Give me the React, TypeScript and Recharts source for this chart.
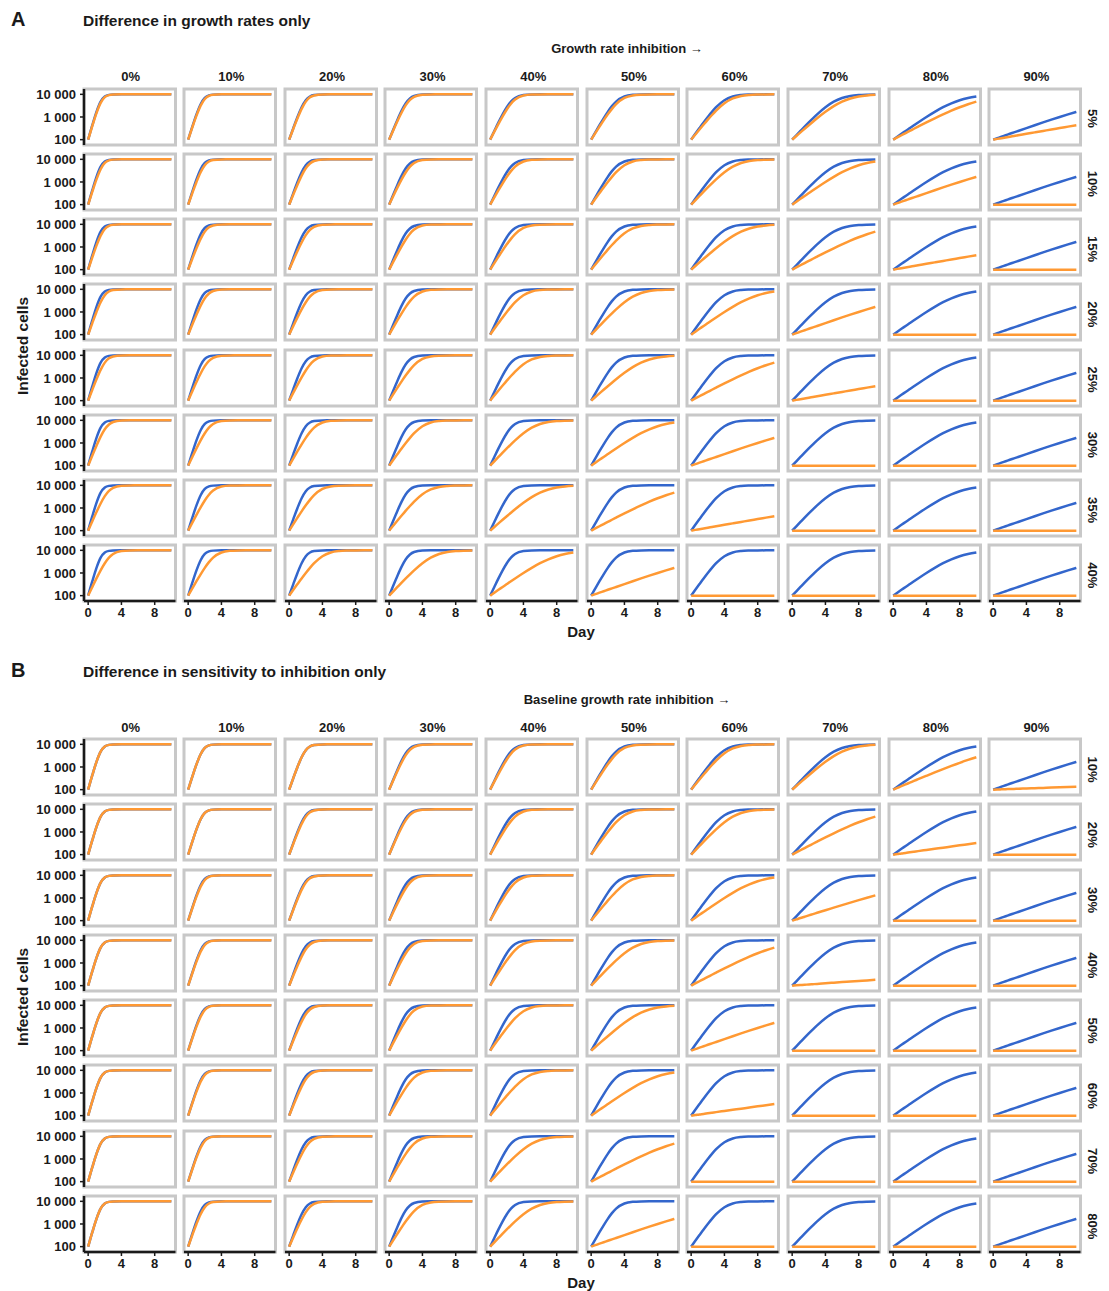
import React from "react";
import { LineChart, Line, XAxis, YAxis, ReferenceArea } from "recharts";

// sampling days of the simulated curves
const days = [0, 0.5, 1, 1.5, 2, 2.5, 3, 4, 5, 6, 7, 8, 9, 10];

// infected cells at each sampling day, one array per effective growth rate (% of the uninhibited rate)
const rate100 = [100, 433, 1687, 4762, 8030, 9481, 9879, 9994, 10000, 10000, 10000, 10000, 10000, 10000];
const rate95 = [100, 403, 1487, 4206, 7512, 9262, 9812, 9989, 9999, 10000, 10000, 10000, 10000, 10000];
const rate90 = [100, 375, 1307, 3670, 6910, 8961, 9708, 9980, 9999, 10000, 10000, 10000, 10000, 10000];
const rate85 = [100, 349, 1145, 3165, 6236, 8557, 9550, 9963, 9997, 10000, 10000, 10000, 10000, 10000];
const rate80 = [100, 324, 1002, 2699, 5510, 8030, 9312, 9933, 9994, 9999, 10000, 10000, 10000, 10000];
const rate75 = [100, 302, 875, 2279, 4762, 7369, 8961, 9879, 9987, 9999, 10000, 10000, 10000, 10000];
const rate70 = [100, 281, 762, 1908, 4025, 6581, 8462, 9782, 9973, 9997, 10000, 10000, 10000, 10000];
const rate65 = [100, 261, 663, 1584, 3329, 5695, 7781, 9610, 9943, 9992, 9999, 10000, 10000, 10000];
const rate60 = [100, 242, 576, 1307, 2699, 4762, 6910, 9312, 9879, 9980, 9997, 9999, 10000, 10000];
const rate55 = [100, 225, 500, 1072, 2150, 3846, 5878, 8813, 9748, 9951, 9990, 9998, 10000, 10000];
const rate50 = [100, 209, 433, 875, 1687, 3005, 4762, 8030, 9481, 9879, 9973, 9994, 9999, 10000];
const rate45 = [100, 195, 375, 711, 1307, 2279, 3670, 6910, 8961, 9708, 9923, 9980, 9995, 9999];
const rate40 = [100, 181, 324, 576, 1002, 1687, 2699, 5510, 8030, 9312, 9782, 9933, 9980, 9994];
const rate35 = [100, 168, 281, 465, 762, 1224, 1908, 4025, 6581, 8462, 9402, 9782, 9923, 9973];
const rate30 = [100, 156, 242, 375, 576, 875, 1307, 2699, 4762, 6910, 8462, 9312, 9708, 9879];
const rate25 = [100, 145, 209, 302, 433, 618, 875, 1687, 3005, 4762, 6581, 8030, 8961, 9481];
const rate20 = [100, 135, 181, 242, 324, 433, 576, 1002, 1687, 2699, 4025, 5510, 6910, 8030];
const rate15 = [100, 125, 156, 195, 242, 302, 375, 576, 875, 1307, 1908, 2699, 3670, 4762];
const rate12 = [100, 119, 143, 170, 203, 242, 289, 409, 576, 805, 1115, 1525, 2050, 2699];
const rate10 = [100, 116, 135, 156, 181, 209, 242, 324, 433, 576, 762, 1002, 1307, 1687];
const rate9 = [100, 114, 131, 149, 170, 195, 222, 289, 375, 486, 627, 805, 1029, 1307];
const rate5 = [100, 108, 116, 125, 135, 145, 156, 181, 209, 242, 281, 324, 375, 433];
const rate4 = [100, 106, 113, 119, 127, 135, 143, 161, 181, 203, 229, 257, 289, 324];
const rate2 = [100, 103, 106, 109, 113, 116, 119, 127, 135, 143, 151, 161, 170, 181];
const rate1 = [100, 101, 103, 105, 106, 108, 109, 113, 116, 119, 123, 127, 131, 135];
const rate0 = [100, 100, 100, 100, 100, 100, 100, 100, 100, 100, 100, 100, 100, 100];

const PROFILES: Record<number, number[]> = {
  100: rate100, 95: rate95, 90: rate90, 85: rate85, 80: rate80, 75: rate75, 70: rate70,
  65: rate65, 60: rate60, 55: rate55, 50: rate50, 45: rate45, 40: rate40, 35: rate35,
  30: rate30, 25: rate25, 20: rate20, 15: rate15, 12: rate12, 10: rate10, 9: rate9,
  5: rate5, 4: rate4, 2: rate2, 1: rate1, 0: rate0,
};

const columnLabels = ["0%", "10%", "20%", "30%", "40%", "50%", "60%", "70%", "80%", "90%"];
// reference strain (blue): growth rate per column
const blueRate = [100, 90, 80, 70, 60, 50, 40, 30, 20, 10];

// panel A: orange strain growth rate per row (difference) and column
const rowLabelsA = ["5%", "10%", "15%", "20%", "25%", "30%", "35%", "40%"];
const orangeRateA = [
  [95, 85, 75, 65, 55, 45, 35, 25, 15, 5],
  [90, 80, 70, 60, 50, 40, 30, 20, 10, 0],
  [85, 75, 65, 55, 45, 35, 25, 15, 5, 0],
  [80, 70, 60, 50, 40, 30, 20, 10, 0, 0],
  [75, 65, 55, 45, 35, 25, 15, 5, 0, 0],
  [70, 60, 50, 40, 30, 20, 10, 0, 0, 0],
  [65, 55, 45, 35, 25, 15, 5, 0, 0, 0],
  [60, 50, 40, 30, 20, 10, 0, 0, 0, 0],
];

// panel B: orange strain growth rate per row (sensitivity difference) and column
const rowLabelsB = ["10%", "20%", "30%", "40%", "50%", "60%", "70%", "80%"];
const orangeRateB = [
  [100, 90, 80, 65, 55, 45, 35, 25, 12, 1],
  [100, 90, 75, 65, 50, 40, 30, 15, 4, 0],
  [100, 85, 75, 60, 50, 35, 20, 9, 0, 0],
  [100, 85, 70, 60, 45, 30, 15, 2, 0, 0],
  [100, 85, 70, 55, 40, 25, 10, 0, 0, 0],
  [100, 85, 70, 50, 35, 20, 4, 0, 0, 0],
  [100, 85, 65, 50, 30, 15, 0, 0, 0, 0],
  [100, 80, 65, 45, 30, 10, 0, 0, 0, 0],
];

const yTicks = [100, 1000, 10000];
const xTicks = [0, 4, 8];

const FONT = "'Liberation Sans', Arial, Helvetica, sans-serif";
const INK = "#1a1a1a";
const BLUE = "#3366CC";
const ORANGE = "#FF9933";
const BORDER = "#C8C8C8";
const X_DOMAIN: [number, number] = [-0.5, 10.5];
const Y_DOMAIN: [number, number] = [58, 17200];

const PW = 91.5;
const PH = 56;
const X0 = 83.5;
const DX = 100.63;
const Y0 = 88.5;
const DY = 65.25;
const Y_AXIS_W = 62;
const X_AXIS_H = 20;

const fmt = (v: number) => String(v).replace(/\B(?=(\d{3})+(?!\d))/g, " ");

interface CellProps {
  blue: number;
  orange: number;
  showY: boolean;
  showX: boolean;
  left: number;
  top: number;
}

function Cell({ blue, orange, showY, showX, left, top }: CellProps) {
  const data = days.map((d, i) => ({ day: d, blue: PROFILES[blue][i], orange: PROFILES[orange][i] }));
  const yw = showY ? Y_AXIS_W : 0;
  const xh = showX ? X_AXIS_H : 0;
  return (
    <div style={{ position: "absolute", left: left - 2 - yw, top: top - 2 }}>
      <LineChart width={PW + 4 + yw} height={PH + 4 + xh} data={data} margin={{ top: 2, right: 2, bottom: 2, left: 2 }}>
        <ReferenceArea
          x1={X_DOMAIN[0]}
          x2={X_DOMAIN[1]}
          y1={Y_DOMAIN[0]}
          y2={Y_DOMAIN[1]}
          fill="none"
          fillOpacity={0}
          stroke={BORDER}
          strokeWidth={3}
        />
        <XAxis
          type="number"
          dataKey="day"
          domain={X_DOMAIN}
          allowDataOverflow
          ticks={xTicks}
          interval={0}
          hide={!showX}
          height={xh}
          tickSize={4}
          tickMargin={3}
          tick={{ fontSize: 13, fontWeight: 700, fill: INK }}
          tickLine={{ stroke: INK, strokeWidth: 1.5 }}
          axisLine={{ stroke: INK, strokeWidth: 2.5 }}
        />
        <YAxis
          type="number"
          scale="log"
          domain={Y_DOMAIN}
          allowDataOverflow
          ticks={yTicks}
          interval={0}
          hide={!showY}
          width={yw}
          tickSize={4}
          tickMargin={4}
          tickFormatter={fmt}
          tick={{ fontSize: 13, fontWeight: 700, fill: INK }}
          tickLine={{ stroke: INK, strokeWidth: 1.5 }}
          axisLine={{ stroke: INK, strokeWidth: 2.5 }}
        />
        <Line type="monotone" dataKey="blue" stroke={BLUE} strokeWidth={2.5} dot={false} activeDot={false} isAnimationActive={false} />
        <Line type="monotone" dataKey="orange" stroke={ORANGE} strokeWidth={2.5} dot={false} activeDot={false} isAnimationActive={false} />
      </LineChart>
    </div>
  );
}

interface FacetProps {
  offsetY: number;
  letter: string;
  title: string;
  colTitle: string;
  rowLabels: string[];
  orangeRates: number[][];
}

function Facets({ offsetY, letter, title, colTitle, rowLabels, orangeRates }: FacetProps) {
  const lastRow = rowLabels.length - 1;
  return (
    <>
      <svg
        width={1109}
        height={650}
        style={{ position: "absolute", left: 0, top: offsetY, overflow: "visible" }}
        fontFamily={FONT}
        fill={INK}
      >
        <text x={11} y={26} fontSize={20} fontWeight={700}>{letter}</text>
        <text x={83} y={26} fontSize={15.5} fontWeight={700}>{title}</text>
        <text x={627} y={52.5} fontSize={13} fontWeight={700} textAnchor="middle">{colTitle}</text>
        {columnLabels.map((lab, k) => (
          <text key={lab} x={X0 + DX * k + PW / 2 + 1.5} y={81} fontSize={13} fontWeight={700} textAnchor="middle">
            {lab}
          </text>
        ))}
        {rowLabels.map((lab, r) => (
          <text
            key={lab}
            transform={`translate(1092, ${Y0 + DY * r + PH / 2 + 2}) rotate(90)`}
            fontSize={13}
            fontWeight={700}
            textAnchor="middle"
            dominantBaseline="central"
          >
            {lab}
          </text>
        ))}
        <text x={581} y={637} fontSize={15} fontWeight={700} textAnchor="middle">Day</text>
        <text transform="translate(27.5, 346) rotate(-90)" fontSize={15.5} fontWeight={700} textAnchor="middle">
          Infected cells
        </text>
      </svg>
      {orangeRates.map((row, r) =>
        row.map((o, k) => (
          <Cell
            key={`${r}-${k}`}
            blue={blueRate[k]}
            orange={o}
            showY={k === 0}
            showX={r === lastRow}
            left={X0 + DX * k}
            top={offsetY + Y0 + DY * r}
          />
        ))
      )}
    </>
  );
}

export default function App() {
  return (
    <div
      style={{
        position: "absolute",
        left: 0,
        top: 0,
        width: 1109,
        height: 1291,
        background: "#fff",
        fontFamily: FONT,
        overflow: "hidden",
      }}
    >
      <Facets
        offsetY={0}
        letter="A"
        title="Difference in growth rates only"
        colTitle="Growth rate inhibition →"
        rowLabels={rowLabelsA}
        orangeRates={orangeRateA}
      />
      <Facets
        offsetY={650.5}
        letter="B"
        title="Difference in sensitivity to inhibition only"
        colTitle="Baseline growth rate inhibition →"
        rowLabels={rowLabelsB}
        orangeRates={orangeRateB}
      />
    </div>
  );
}
